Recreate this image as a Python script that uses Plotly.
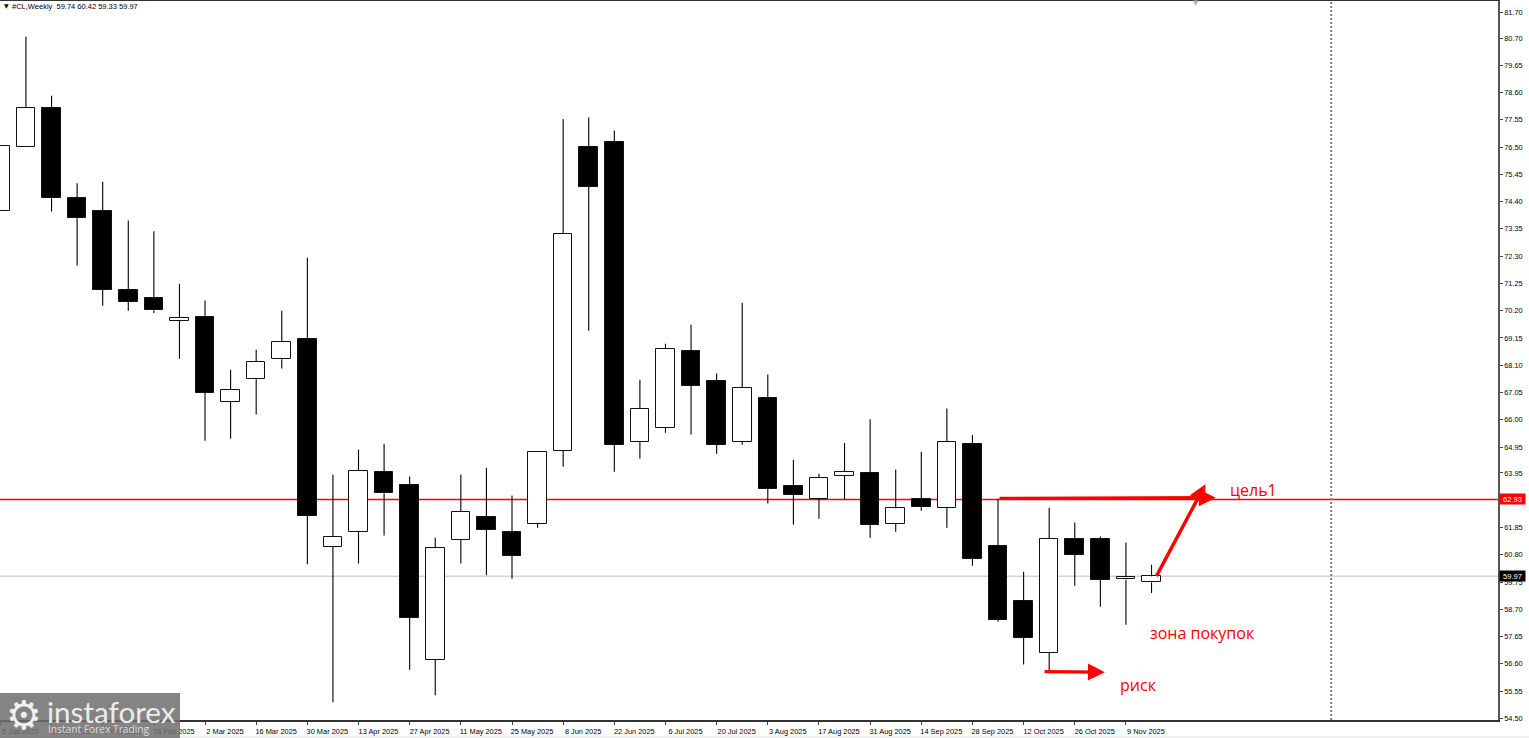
import plotly.graph_objects as go
import pandas as pd

# weekly #CL candles
WEEKS = pd.date_range('2025-01-05', periods=46, freq='7D').strftime('%Y-%m-%d').tolist()
OPENS = [74.05, 76.52, 78.01, 74.54, 74.05, 71.01, 70.70, 69.80, 69.97, 66.68, 67.56, 68.33,
         69.10, 61.11, 61.69, 64.00, 63.50, 56.76, 61.38, 62.27, 61.69, 62.00, 64.81, 76.52,
         76.71, 65.16, 65.70, 68.66, 67.51, 65.16, 66.85, 63.46, 62.96, 63.85, 63.96, 62.00,
         62.96, 62.61, 65.08, 61.15, 59.03, 57.03, 61.39, 61.39, 59.85, 59.74]
CLOSES = [76.56, 78.01, 74.55, 73.76, 71.01, 70.55, 70.22, 69.93, 67.04, 67.16, 68.24, 69.01,
          62.31, 61.48, 64.04, 63.17, 58.38, 61.05, 62.46, 61.75, 60.76, 64.77, 73.17, 74.98,
          65.04, 66.43, 68.74, 67.31, 65.04, 67.24, 63.35, 63.11, 63.77, 64.00, 61.96, 62.59,
          62.65, 65.16, 60.65, 58.30, 57.61, 61.42, 60.81, 59.84, 59.93, 59.97]
HIGHS = [76.56, 80.76, 78.48, 75.11, 75.17, 73.67, 73.26, 71.24, 70.59, 67.93, 68.70, 70.20,
         72.24, 63.88, 64.85, 65.08, 63.81, 61.46, 63.88, 64.15, 63.08, 64.77, 77.58, 77.64,
         77.14, 67.54, 68.93, 69.66, 67.78, 70.51, 67.74, 64.46, 63.92, 65.10, 66.02, 64.08,
         64.77, 66.43, 65.41, 62.96, 60.15, 62.61, 62.04, 61.50, 61.27, 60.42]
LOWS = [74.05, 76.52, 74.02, 71.94, 70.39, 70.20, 70.11, 68.35, 65.19, 65.27, 66.20, 67.97,
        60.44, 55.12, 60.46, 61.54, 56.37, 55.39, 60.46, 60.01, 59.88, 61.84, 64.19, 69.43,
        64.00, 64.50, 65.50, 65.43, 64.69, 65.04, 62.77, 61.96, 62.19, 62.92, 61.46, 61.69,
        62.50, 61.84, 60.38, 58.22, 56.57, 56.33, 59.61, 58.80, 58.11, 59.33]

PRICE_TICKS = [81.70, 80.70, 79.65, 78.60, 77.55, 76.50, 75.45, 74.40, 73.35, 72.30, 71.25,
               70.20, 69.15, 68.10, 67.05, 66.00, 64.95, 63.95, 62.90, 61.85, 60.80, 59.75,
               58.70, 57.65, 56.60, 55.55, 54.50]
DATE_TICKS = WEEKS[::2]
DATE_LABELS = [f'{d.day} {d.strftime("%b %Y")}' for d in pd.to_datetime(DATE_TICKS)]

LEVEL = 62.93
LAST = 59.97
SEPARATOR = '2026-01-04 04:00'

W, H = 1529, 738
L_PLOT, R_PLOT = 0, 1498
T_PLOT, B_PLOT = 1, 720
PW = R_PLOT - L_PLOT
PH = B_PLOT - T_PLOT
MS_PER_PX = 7 * 86400000 / 25.58


def px(x):
    return x / PW


def py(y):
    return 1 - (y - T_PLOT) / PH


# candlestick trace has no usable body width, so bodies are bars and wicks are line pieces
fig = go.Figure()
fig.add_trace(go.Bar(
    x=WEEKS, base=[min(o, c) for o, c in zip(OPENS, CLOSES)],
    y=[abs(c - o) for o, c in zip(OPENS, CLOSES)],
    width=MS_PER_PX * 18.6,
    marker=dict(color=['white' if c > o else 'black' for o, c in zip(OPENS, CLOSES)],
                line=dict(color='#111111', width=1)),
    showlegend=False,
))

wick_x, wick_y = [], []
for week, o, h, l, c in zip(WEEKS, OPENS, HIGHS, LOWS, CLOSES):
    wick_x += [week, week, None, week, week, None]
    wick_y += [h, max(o, c), None, min(o, c), l, None]
fig.add_trace(go.Scatter(
    x=wick_x, y=wick_y, mode='lines', line=dict(color='#000000', width=1.1),
    connectgaps=False, showlegend=False,
))

shapes = [
    dict(type='line', xref='paper', x0=0, x1=1, yref='y', y0=LAST, y1=LAST,
         line=dict(color='#d3d3d3', width=1.5), layer='below'),
    dict(type='line', xref='paper', x0=0, x1=1, yref='y', y0=LEVEL, y1=LEVEL,
         line=dict(color='#ff0000', width=1.5), layer='below'),
    dict(type='line', xref='x', x0=SEPARATOR, x1=SEPARATOR, yref='paper', y0=0, y1=1,
         line=dict(color='#808080', width=2, dash='2px,2px'), layer='below'),
    # strip under the window
    dict(type='rect', xref='paper', x0=0, x1=W / PW, yref='paper', y0=py(736), y1=py(738),
         fillcolor='#f0f0f0', line_width=0, layer='above'),
    # watermark plate
    dict(type='rect', xref='paper', x0=0, x1=px(180), yref='paper', y0=py(738), y1=py(693),
         fillcolor='rgba(110,110,110,0.85)', line_width=0, layer='above'),
]

# thick red arrows: tip, then tail
ARROWS = [
    ('2025-12-03 14:00', 63.00, '2025-10-05', 62.97),
    ('2025-11-30 18:00', 63.52, '2025-11-17 03:00', 59.92),
    ('2025-11-03 06:00', 56.28, '2025-10-17 08:00', 56.30),
]
annotations = []
for x, y, ax, ay in ARROWS:
    annotations.append(dict(
        x=x, y=y, ax=ax, ay=ay, xref='x', yref='y', axref='x', ayref='y', text='',
        showarrow=True, arrowhead=2, arrowsize=1, arrowwidth=3.4, arrowcolor='#ff0000',
    ))

NOTES = [
    ('цель1', '2025-12-06 23:00', 63.30),
    ('зона покупок', '2025-11-15 02:00', 57.79),
    ('риск', '2025-11-06 18:00', 55.79),
]
for text, x, y in NOTES:
    annotations.append(dict(x=x, y=y, xref='x', yref='y', text=text, showarrow=False,
                            xanchor='left', yanchor='middle',
                            font=dict(family='Open Sans', size=16, color='#ff0000')))

# price tags on the scale
for price, bg in [(LEVEL, '#ff0000'), (LAST, '#000000')]:
    annotations.append(dict(x=px(1499.5), y=price, xref='paper', yref='y', text=f'{price:.2f}',
                            showarrow=False, xanchor='left', yanchor='middle', width=25,
                            height=10, borderpad=0, bgcolor=bg, align='center',
                            font=dict(family='Liberation Sans', size=7.6, color='white')))

annotations += [
    dict(x=px(2), y=py(6), xref='paper', yref='paper', text='▼', showarrow=False,
         xanchor='left', yanchor='middle',
         font=dict(family='DejaVu Sans', size=6, color='black')),
    dict(x=px(10), y=py(6.5), xref='paper', yref='paper',
         text='#CL,Weekly  59.74 60.42 59.33 59.97', showarrow=False,
         xanchor='left', yanchor='middle',
         font=dict(family='Liberation Sans', size=7.5, color='black')),
    dict(x=px(1196), y=py(1), xref='paper', yref='paper', text='▼', showarrow=False,
         xanchor='center', yanchor='top', yshift=4,
         font=dict(family='DejaVu Sans', size=7, color='#b0b0b0')),
    dict(x=px(24.5), y=py(714.5), xref='paper', yref='paper', text='⚙', showarrow=False,
         xanchor='center', yanchor='middle',
         font=dict(family='DejaVu Sans', size=40, color='#f0f0f0')),
    dict(x=px(45), y=py(711), xref='paper', yref='paper', text='instaforex', showarrow=False,
         xanchor='left', yanchor='middle',
         font=dict(family='Lato', size=29.6, color='#ececec')),
    dict(x=px(46), y=py(729), xref='paper', yref='paper', text='Instant Forex Trading',
         showarrow=False, xanchor='left', yanchor='middle',
         font=dict(family='Open Sans', size=10.2, color='#dcdcdc')),
]

fig.update_layout(
    width=W, height=H,
    margin=dict(l=L_PLOT, r=W - R_PLOT, t=T_PLOT, b=H - B_PLOT, autoexpand=False),
    paper_bgcolor='white', plot_bgcolor='white',
    barmode='overlay', bargap=0,
    shapes=shapes, annotations=annotations,
    font=dict(family='Liberation Sans', size=8, color='black'),
    xaxis=dict(
        type='date', range=['2025-01-04 21:30', '2026-02-18 19:30'],
        showgrid=False, zeroline=False,
        tickmode='array', tickvals=DATE_TICKS, ticktext=DATE_LABELS, tickangle=0,
        ticks='outside', ticklen=3, tickcolor='#444444', ticklabelshift=20,
        showline=True, linecolor='#333333', linewidth=1.5, mirror=True,
        tickfont=dict(family='Liberation Sans', size=7.4, color='#000000'),
    ),
    yaxis=dict(
        side='right', range=[54.437, 82.127], showgrid=False, zeroline=False,
        tickmode='array', tickvals=PRICE_TICKS, ticktext=[f'{v:.2f}' for v in PRICE_TICKS],
        ticks='outside', ticklen=3, tickcolor='#444444',
        showline=True, linecolor='#555555', linewidth=1.5,
        tickfont=dict(family='Liberation Sans', size=7.4, color='#000000'),
    ),
)

fig.write_html('out.html', config={'displayModeBar': False},
               post_script="document.body.style.margin='0';")
